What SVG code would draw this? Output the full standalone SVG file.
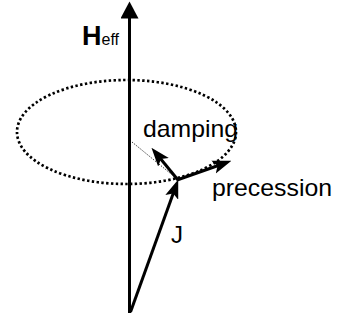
<svg xmlns="http://www.w3.org/2000/svg" width="337" height="322" viewBox="0 0 337 322">
<style>
.lbl{font-family:"Liberation Sans",Arial,sans-serif;font-size:24px;fill:#000}
.vec{stroke:#000;stroke-width:3;fill:none}
</style>
<defs>
<marker id="big" markerUnits="userSpaceOnUse" markerWidth="18" markerHeight="18" viewBox="0 0 16 17" refX="8" refY="8.5" orient="auto">
<path d="M0,0 L16,8.5 L0,17 z" fill="#000"/>
</marker>
<marker id="head" markerUnits="userSpaceOnUse" markerWidth="19" markerHeight="14" viewBox="0 0 18 13" refX="9" refY="6.5" orient="auto">
<path d="M0,0 L18,6.5 L0,13 L4,6.5 z" fill="#000"/>
</marker>
</defs>
<rect width="337" height="322" fill="#fff"/>
<g id="orbit">
<ellipse cx="126.5" cy="132" rx="109.5" ry="52" fill="none" stroke="#000" stroke-width="2.7" stroke-dasharray="2.4 2.4"/>
</g>
<g id="connectors">
<line id="heff-axis" class="vec" x1="129.5" y1="313" x2="129.5" y2="10" marker-end="url(#big)"/>
<line id="damping-guide" x1="132" y1="142" x2="176" y2="178" stroke="#000" stroke-width="1" stroke-dasharray="1 1.5"/>
<line id="j-vector" class="vec" x1="130.5" y1="312" x2="175" y2="188.5" marker-end="url(#head)"/>
<line id="precession-vector" class="vec" x1="177" y1="180" x2="222.5" y2="164" marker-end="url(#head)"/>
<line id="damping-vector" class="vec" x1="178" y1="180" x2="157.5" y2="155" marker-end="url(#head)"/>
</g>
<g id="label-heff">
<text x="82" y="45" font-family="Liberation Sans,Arial,sans-serif" font-weight="bold" font-size="27">H<tspan font-weight="normal" font-size="16">eff</tspan></text>
</g>
<g id="label-damping">
<text class="lbl" x="143" y="137" textLength="95" lengthAdjust="spacingAndGlyphs">damping</text>
</g>
<g id="label-precession">
<text class="lbl" x="212" y="196" textLength="120" lengthAdjust="spacingAndGlyphs">precession</text>
</g>
<g id="label-j">
<text class="lbl" x="171" y="243">J</text>
</g>
</svg>
